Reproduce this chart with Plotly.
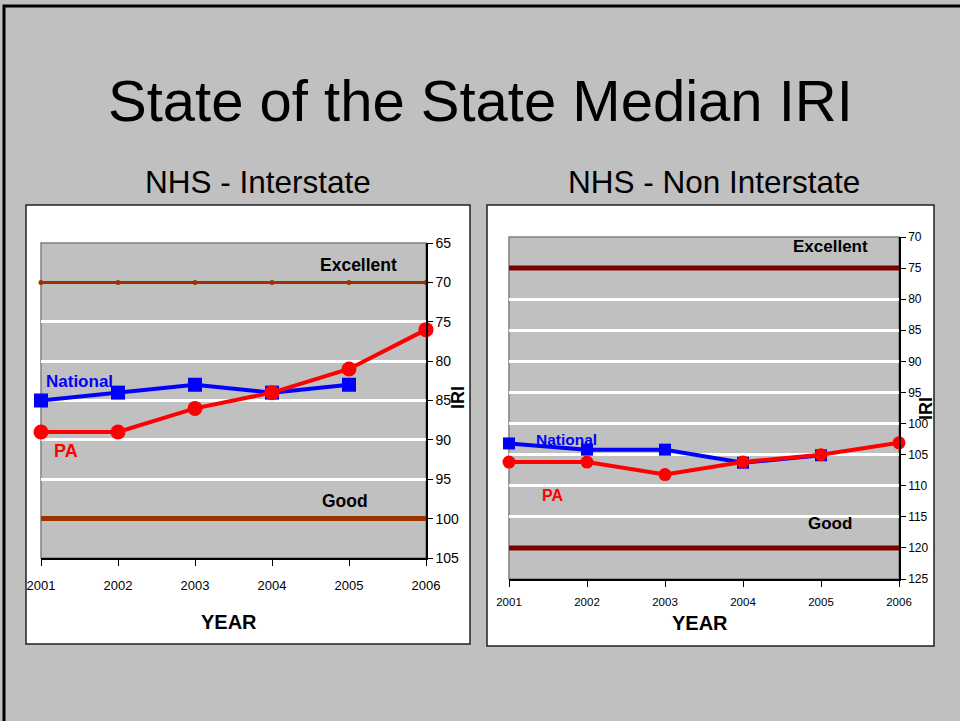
import plotly.graph_objects as go

years = [2001, 2002, 2003, 2004, 2005, 2006]

# NHS - Interstate
int_national = [85, 84, 83, 84, 83, None]
int_pa = [89, 89, 86, 84, 81, 76]
int_excellent = [70, 70, 70, 70, 70, 70]
int_good = [100, 100, 100, 100, 100, 100]

# NHS - Non Interstate
non_national = [103.2, 104.2, 104.2, 106.3, 105.1, None]
non_pa = [106.2, 106.2, 108.2, 106.2, 105, 103.1]
non_excellent = [75, 75, 75, 75, 75, 75]
non_good = [120, 120, 120, 120, 120, 120]

W, H = 960, 721
FONT = "Liberation Sans, Arial"
GRAY = "#c0c0c0"


def px(x):
    return x / W


def py(y):
    return 1 - y / H


fig = go.Figure()

# left chart
fig.add_trace(go.Scatter(x=years, y=int_excellent, mode="lines+markers", xaxis="x", yaxis="y",
                         line=dict(color="#993300", width=3), marker=dict(size=5, color="#993300"),
                         cliponaxis=False, showlegend=False))
fig.add_trace(go.Scatter(x=years, y=int_good, mode="lines", xaxis="x", yaxis="y",
                         line=dict(color="#993300", width=5), cliponaxis=False, showlegend=False))
fig.add_trace(go.Scatter(x=years, y=int_national, mode="lines+markers", xaxis="x", yaxis="y",
                         line=dict(color="#0000ff", width=4),
                         marker=dict(symbol="square", size=14, color="#0000ff"),
                         cliponaxis=False, showlegend=False))
fig.add_trace(go.Scatter(x=years, y=int_pa, mode="lines+markers", xaxis="x", yaxis="y",
                         line=dict(color="#ff0000", width=4),
                         marker=dict(symbol="circle", size=15, color="#ff0000"),
                         cliponaxis=False, showlegend=False))

# right chart
fig.add_trace(go.Scatter(x=years, y=non_excellent, mode="lines", xaxis="x2", yaxis="y2",
                         line=dict(color="#800000", width=5), cliponaxis=False, showlegend=False))
fig.add_trace(go.Scatter(x=years, y=non_good, mode="lines", xaxis="x2", yaxis="y2",
                         line=dict(color="#800000", width=5), cliponaxis=False, showlegend=False))
fig.add_trace(go.Scatter(x=years, y=non_national, mode="lines+markers", xaxis="x2", yaxis="y2",
                         line=dict(color="#0000ff", width=4),
                         marker=dict(symbol="square", size=12, color="#0000ff"),
                         cliponaxis=False, showlegend=False))
fig.add_trace(go.Scatter(x=years, y=non_pa, mode="lines+markers", xaxis="x2", yaxis="y2",
                         line=dict(color="#ff0000", width=4),
                         marker=dict(symbol="circle", size=13, color="#ff0000"),
                         cliponaxis=False, showlegend=False))

xcommon = dict(range=[2001, 2006], tickvals=years, showgrid=False, zeroline=False,
               showline=True, linecolor="black", linewidth=1.5, ticks="outside",
               tickcolor="black", ticklen=6, automargin=False)
ycommon = dict(side="right", dtick=5, showgrid=True, gridcolor="white", gridwidth=3,
               zeroline=False, showline=True, linecolor="black", linewidth=1.5,
               ticks="outside", tickcolor="black", ticklen=5, automargin=False)

fig.update_layout(
    width=W, height=H, autosize=False,
    margin=dict(l=0, r=0, t=0, b=0),
    paper_bgcolor=GRAY, plot_bgcolor=GRAY,
    xaxis=dict(domain=[px(41), px(426)], anchor="y", ticklabelstandoff=9,
               tickfont=dict(family=FONT, size=13, color="black"), **xcommon),
    yaxis=dict(domain=[py(558), py(243)], anchor="x", range=[105, 65],
               tickfont=dict(family=FONT, size=14, color="black"), **ycommon),
    xaxis2=dict(domain=[px(509), px(899)], anchor="y2", ticklabelstandoff=5,
                tickfont=dict(family=FONT, size=11.5, color="black"), **xcommon),
    yaxis2=dict(domain=[py(579), py(237)], anchor="x2", range=[125, 70],
                tickfont=dict(family=FONT, size=12, color="black"), **ycommon),
)

shapes = [
    # slide border
    dict(type="rect", xref="paper", yref="paper", x0=px(4), x1=1.02, y0=-0.02, y1=py(6),
         line=dict(color="black", width=3), fillcolor="rgba(0,0,0,0)", layer="below"),
    # white chart panels
    dict(type="rect", xref="paper", yref="paper", x0=px(26), x1=px(470), y0=py(644), y1=py(205),
         line=dict(color="#202020", width=1.5), fillcolor="white", layer="below"),
    dict(type="rect", xref="paper", yref="paper", x0=px(487), x1=px(934), y0=py(646), y1=py(205),
         line=dict(color="#202020", width=1.5), fillcolor="white", layer="below"),
]
for ax, yax in [("x", "y"), ("x2", "y2")]:
    shapes.append(dict(type="rect", xref=ax + " domain", yref=yax + " domain", x0=0, x1=1, y0=0, y1=1,
                       fillcolor=GRAY, line=dict(color="#808080", width=1.5), layer="below"))
fig.update_layout(shapes=shapes)

ann = [
    dict(text="State of the State Median IRI", xref="paper", yref="paper", x=0.5, y=py(101),
         font=dict(family=FONT, size=58, color="black")),
    dict(text="NHS - Interstate", xref="paper", yref="paper", x=px(258), y=py(182),
         font=dict(family=FONT, size=31.5, color="black")),
    dict(text="NHS - Non Interstate", xref="paper", yref="paper", x=px(714), y=py(182),
         font=dict(family=FONT, size=31.5, color="black")),
    # left chart labels
    dict(text="<b>Excellent</b>", xref="x", yref="y", x=2005.12, y=67.8,
         font=dict(family=FONT, size=17.5, color="black")),
    dict(text="<b>Good</b>", xref="x", yref="y", x=2004.95, y=97.8,
         font=dict(family=FONT, size=17.5, color="black")),
    dict(text="<b>National</b>", xref="x", yref="y", x=2001.5, y=82.6,
         font=dict(family=FONT, size=17, color="#0000ff")),
    dict(text="<b>PA</b>", xref="x", yref="y", x=2001.33, y=91.4,
         font=dict(family=FONT, size=18, color="#ff0000")),
    dict(text="<b>IRI</b>", xref="paper", yref="paper", x=px(458), y=py(398), textangle=-90,
         font=dict(family=FONT, size=18, color="black")),
    dict(text="<b>YEAR</b>", xref="paper", yref="paper", x=px(229), y=py(622),
         font=dict(family=FONT, size=20, color="black")),
    # right chart labels
    dict(text="<b>Excellent</b>", xref="x2", yref="y2", x=2005.12, y=71.5,
         font=dict(family=FONT, size=17, color="black")),
    dict(text="<b>Good</b>", xref="x2", yref="y2", x=2005.12, y=116,
         font=dict(family=FONT, size=17, color="black")),
    dict(text="<b>National</b>", xref="x2", yref="y2", x=2001.74, y=102.6,
         font=dict(family=FONT, size=15.5, color="#0000ff")),
    dict(text="<b>PA</b>", xref="x2", yref="y2", x=2001.56, y=111.6,
         font=dict(family=FONT, size=16, color="#ff0000")),
    dict(text="<b>IRI</b>", xref="paper", yref="paper", x=px(926), y=py(409), textangle=-90,
         font=dict(family=FONT, size=18, color="black")),
    dict(text="<b>YEAR</b>", xref="paper", yref="paper", x=px(700), y=py(623),
         font=dict(family=FONT, size=20, color="black")),
]
for a in ann:
    a.update(showarrow=False, xanchor="center", yanchor="middle")
fig.update_layout(annotations=ann)

fig.write_html("out.html", config={"responsive": False, "displayModeBar": False},
               post_script="document.body.style.margin = '0'; document.body.style.overflow = 'hidden';")
